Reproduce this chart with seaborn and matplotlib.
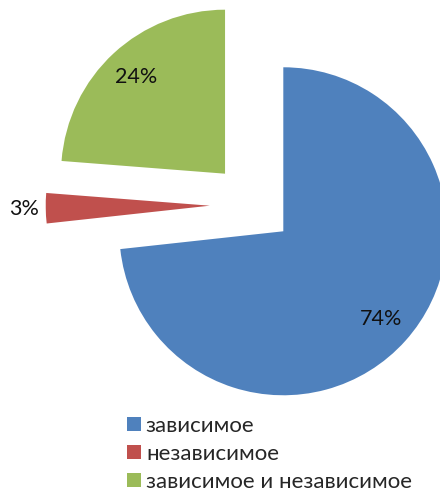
import matplotlib
matplotlib.use("Agg")
import numpy
import seaborn as sea
from matplotlib import pyplot
from matplotlib.patches import Patch

# data
categories = ["зависимое", "независимое", "зависимое и независимое"]
shares = [74, 3, 24]
colors = ["#4F81BD", "#C0504D", "#9BBB59"]

sea.set_theme(style="white")
pyplot.rcParams["font.family"] = ["Lato", "Open Sans", "DejaVu Sans"]

figure = pyplot.figure(figsize=(4.4, 4.92), dpi=100)
axis = figure.add_axes([0, 0, 1, 1])

total = sum(shares)
wedges, texts, autotexts = axis.pie(
    shares,
    colors=colors,
    explode=[0.24, 0.27, 0.26],
    startangle=90,
    counterclock=False,
    autopct=lambda p: f"{p * total / 100:.0f}%",
    pctdistance=0.8,
    textprops={"fontsize": 15.5, "color": "#111111"},
    wedgeprops={"linewidth": 0},
)

# the small slice keeps its label outside
small = wedges[1]
mid = numpy.deg2rad((small.theta1 + small.theta2) / 2)
cx, cy = small.center
autotexts[1].set_position(
    (cx + 1.13 * numpy.cos(mid), cy + 1.13 * numpy.sin(mid))
)

# pixel layout: pie centre at (254, 205) from top-left, radius 164 px
r = 164.0
axis.set_xlim(-254 / r, 186 / r)
axis.set_ylim(-287 / r, 205 / r)
axis.set_aspect("auto")
axis.axis("off")

handles = [Patch(facecolor=c, edgecolor="none") for c in colors]
axis.legend(
    handles,
    categories,
    loc="upper left",
    bbox_to_anchor=(127 / 440, 1 - 416 / 492),
    frameon=False,
    fontsize=16,
    handlelength=0.62,
    handleheight=0.62,
    handletextpad=0.23,
    labelspacing=0.36,
    borderaxespad=0,
    borderpad=0,
)

figure.savefig("out.png", dpi=100)
